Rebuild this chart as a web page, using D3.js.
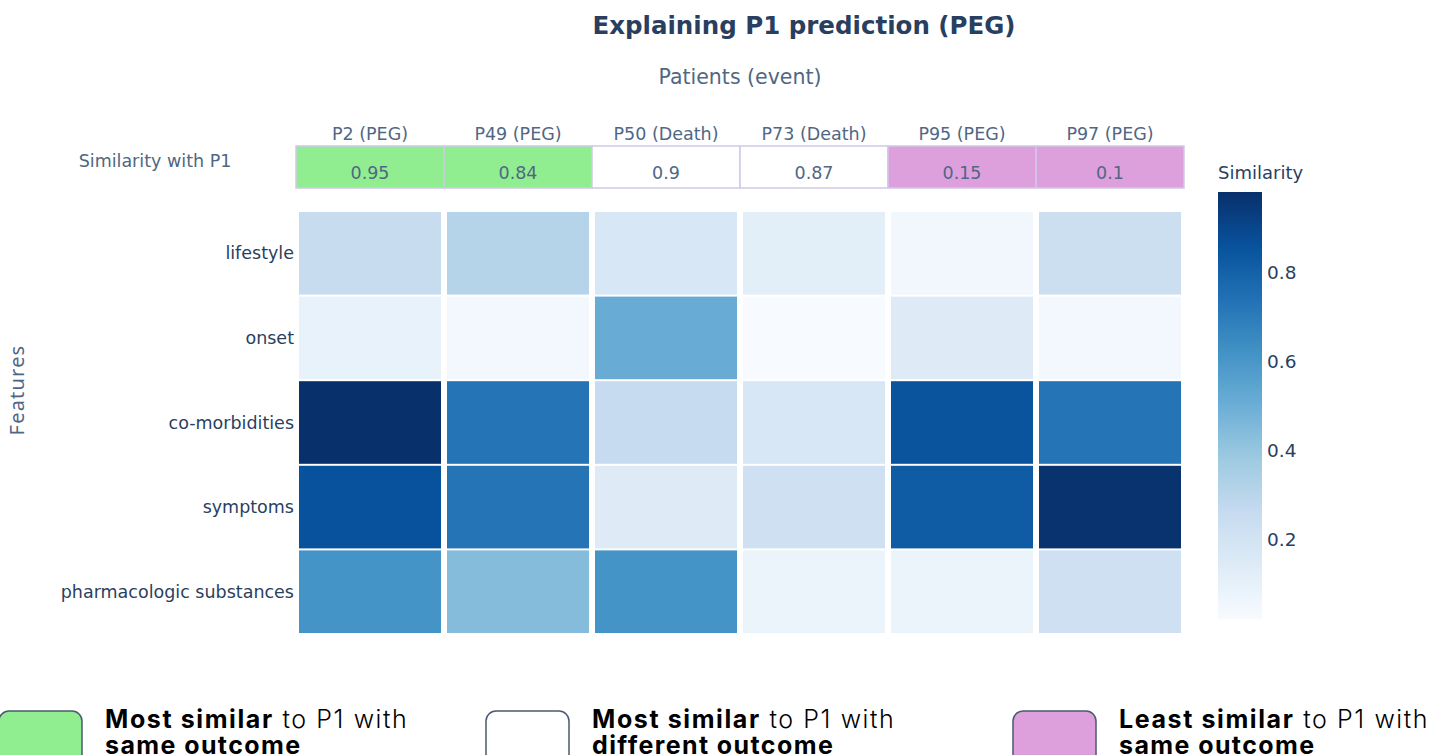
<!DOCTYPE html>
<html>
<head>
<meta charset="utf-8">
<script src="https://cdn.jsdelivr.net/npm/d3@7"></script>
<style>
  body { margin: 0; background: #fff; }
  svg { display: block; }
</style>
</head>
<body>
<div id="chart"></div>
<script>
// données du graphe
const patients = ["P2 (PEG)", "P49 (PEG)", "P50 (Death)", "P73 (Death)", "P95 (PEG)", "P97 (PEG)"];
const similarity = [0.95, 0.84, 0.9, 0.87, 0.15, 0.1];
const groups = ["same", "same", "different", "different", "least", "least"];
const features = ["lifestyle", "onset", "co-morbidities", "symptoms", "pharmacologic substances"];
// une ligne par feature, une valeur par patient
const lifestyle = [0.25, 0.31, 0.17, 0.12, 0.05, 0.23];
const onset = [0.09, 0.04, 0.51, 0.02, 0.14, 0.04];
const comorbidities = [0.98, 0.73, 0.26, 0.17, 0.85, 0.73];
const symptoms = [0.86, 0.73, 0.14, 0.22, 0.82, 0.97];
const pharmacologic = [0.61, 0.44, 0.61, 0.08, 0.08, 0.22];
const colorbarTicks = [0.2, 0.4, 0.6, 0.8];
const legendItems = [
  { group: "same", bold: "Most similar", rest: " to P1 with", line2: "same outcome" },
  { group: "different", bold: "Most similar", rest: " to P1 with", line2: "different outcome" },
  { group: "least", bold: "Least similar", rest: " to P1 with", line2: "same outcome" }
];

const rows = [lifestyle, onset, comorbidities, symptoms, pharmacologic];

const width = 1435;
const height = 755;
const font = "Verdana, 'DejaVu Sans', sans-serif";
const textColor = "#2a3f5f";
const tableColor = "#506784";

const groupFill = { same: "#90ee90", different: "#ffffff", least: "#dda0dd" };

const svg = d3.select("#chart").append("svg")
  .attr("width", width)
  .attr("height", height)
  .style("font-family", font);

// échelles
const x = d3.scaleBand().domain(patients).range([296, 1184]);
const y = d3.scaleBand().domain(features).range([211, 634]);

const cells = [];
rows.forEach((r, i) => r.forEach((v, j) => cells.push({ f: features[i], p: patients[j], v })));
const vmin = d3.min(cells, d => d.v);
const vmax = d3.max(cells, d => d.v);

// échelle de couleur "Blues"
const bluesStops = ["#f7fbff", "#deebf7", "#c6dbef", "#9ecae1", "#6baed6", "#4292c6", "#2171b5", "#08519c", "#08306b"];
const color = d3.scaleLinear()
  .domain(bluesStops.map((_, i) => vmin + (vmax - vmin) * i / (bluesStops.length - 1)))
  .range(bluesStops)
  .interpolate(d3.interpolateRgb)
  .clamp(true);

// titre
svg.append("text")
  .attr("x", 804).attr("y", 34)
  .attr("text-anchor", "middle")
  .attr("font-size", 24.5).attr("font-weight", "bold")
  .attr("fill", textColor)
  .text("Explaining P1 prediction (PEG)");

svg.append("text")
  .attr("x", 740).attr("y", 84)
  .attr("text-anchor", "middle")
  .attr("font-size", 20.5)
  .attr("fill", tableColor)
  .text("Patients (event)");

// tableau de similarité
svg.selectAll(".head")
  .data(patients)
  .join("text")
  .attr("class", "head")
  .attr("x", d => x(d) + x.bandwidth() / 2)
  .attr("y", 140)
  .attr("text-anchor", "middle")
  .attr("font-size", 17.5)
  .attr("fill", tableColor)
  .text(d => d);

svg.append("text")
  .attr("x", 155).attr("y", 167)
  .attr("text-anchor", "middle")
  .attr("font-size", 17.5)
  .attr("fill", tableColor)
  .text("Similarity with P1");

svg.selectAll(".simcell")
  .data(patients)
  .join("rect")
  .attr("class", "simcell")
  .attr("x", d => x(d))
  .attr("y", 146)
  .attr("width", x.bandwidth())
  .attr("height", 42)
  .attr("fill", (d, i) => groupFill[groups[i]])
  .attr("stroke", "#cfc9e8")
  .attr("stroke-width", 1.5);

svg.selectAll(".simtext")
  .data(patients)
  .join("text")
  .attr("class", "simtext")
  .attr("x", d => x(d) + x.bandwidth() / 2)
  .attr("y", 179)
  .attr("text-anchor", "middle")
  .attr("font-size", 17.5)
  .attr("fill", tableColor)
  .text((d, i) => similarity[i]);

// carte de chaleur
const xgap = 3, ygap = 1;
svg.selectAll(".cell")
  .data(cells)
  .join("rect")
  .attr("class", "cell")
  .attr("x", d => x(d.p) + xgap)
  .attr("y", d => y(d.f) + ygap)
  .attr("width", x.bandwidth() - 2 * xgap)
  .attr("height", y.bandwidth() - 2 * ygap)
  .attr("fill", d => color(d.v));

svg.selectAll(".ylab")
  .data(features)
  .join("text")
  .attr("class", "ylab")
  .attr("x", 294)
  .attr("y", d => y(d) + y.bandwidth() / 2 + 6)
  .attr("text-anchor", "end")
  .attr("font-size", 17.5)
  .attr("fill", textColor)
  .text(d => d);

svg.append("text")
  .attr("transform", "translate(24,390) rotate(-90)")
  .attr("text-anchor", "middle")
  .attr("font-size", 20)
  .attr("font-family", "'Noto Sans', sans-serif")
  .attr("letter-spacing", 1.2)
  .attr("fill", tableColor)
  .text("Features");

// barre de couleur
const cb = d3.scaleLinear().domain([vmin, vmax]).range([619, 192]);
const grad = svg.append("defs").append("linearGradient")
  .attr("id", "cbgrad")
  .attr("x1", 0).attr("y1", 1).attr("x2", 0).attr("y2", 0);
grad.selectAll("stop")
  .data(bluesStops)
  .join("stop")
  .attr("offset", (d, i) => i / (bluesStops.length - 1))
  .attr("stop-color", d => d);

svg.append("rect")
  .attr("x", 1218).attr("y", cb(vmax))
  .attr("width", 44).attr("height", cb(vmin) - cb(vmax))
  .attr("fill", "url(#cbgrad)");

svg.selectAll(".cbtick")
  .data(colorbarTicks)
  .join("text")
  .attr("class", "cbtick")
  .attr("x", 1267)
  .attr("y", d => cb(d) + 7)
  .attr("font-size", 18.5)
  .attr("fill", textColor)
  .text(d => d);

svg.append("text")
  .attr("x", 1218).attr("y", 179)
  .attr("font-size", 18)
  .attr("fill", textColor)
  .text("Similarity");

// légende
const legendX = [0, 487, 1014];
const leg = svg.selectAll(".leg")
  .data(legendItems)
  .join("g")
  .attr("class", "leg")
  .attr("transform", (d, i) => `translate(${legendX[i]},0)`);

leg.append("rect")
  .attr("x", -1).attr("y", 711)
  .attr("width", 83).attr("height", 60)
  .attr("rx", 10)
  .attr("fill", d => groupFill[d.group])
  .attr("stroke", "#4a5a70")
  .attr("stroke-width", 1.5);

const lt = leg.append("text")
  .attr("x", 105).attr("y", 728)
  .attr("font-family", "Inter, 'Noto Sans', sans-serif")
  .attr("font-size", 25)
  .attr("letter-spacing", 1.6)
  .attr("fill", "#000");
lt.append("tspan").attr("font-weight", "bold").text(d => d.bold);
lt.append("tspan").attr("font-weight", 300).text(d => d.rest);

leg.append("text")
  .attr("x", 105).attr("y", 754)
  .attr("font-family", "Inter, 'Noto Sans', sans-serif")
  .attr("font-size", 25)
  .attr("letter-spacing", 1.4)
  .attr("font-weight", "bold")
  .attr("fill", "#000")
  .text(d => d.line2);
</script>
</body>
</html>
